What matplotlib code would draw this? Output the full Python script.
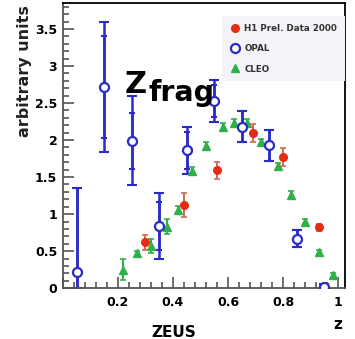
import numpy as np
import matplotlib
matplotlib.use('Agg')
from matplotlib import pyplot as plt
from matplotlib.ticker import MultipleLocator, FuncFormatter

# Z_frag distributions: H1 preliminary vs OPAL vs CLEO
h1_z = [0.30, 0.44, 0.56, 0.69, 0.80, 0.93]
h1_y = [0.62, 1.12, 1.59, 2.09, 1.77, 0.82]
h1_err = [0.10, 0.16, 0.12, 0.12, 0.12, 0.05]

opal_z = [0.05, 0.15, 0.25, 0.35, 0.45, 0.55, 0.65, 0.75, 0.85, 0.95]
opal_y = [0.22, 2.72, 1.99, 0.84, 1.86, 2.53, 2.18, 1.93, 0.67, 0.02]
opal_tot = [1.13, 0.88, 0.60, 0.44, 0.32, 0.28, 0.21, 0.21, 0.11, 0.03]
opal_stat = [1.13, 0.69, 0.38, 0.33, 0.25, 0.22, 0.21, 0.21, 0.11, 0.03]

cleo_z = [0.22, 0.27, 0.32, 0.38, 0.42, 0.47, 0.52, 0.58,
          0.62, 0.67, 0.72, 0.78, 0.83, 0.88, 0.93, 0.98]
cleo_y = [0.25, 0.47, 0.57, 0.83, 1.06, 1.58, 1.92, 2.18,
          2.23, 2.23, 1.97, 1.65, 1.26, 0.90, 0.49, 0.18]
cleo_err = [0.14, 0.03, 0.09, 0.10, 0.05, 0.05, 0.05, 0.05,
            0.05, 0.05, 0.05, 0.04, 0.05, 0.03, 0.03, 0.03]

red = '#e52b12'
blue = '#2b2bc8'
green = '#2fb04a'

fig = plt.figure(figsize=(3.55, 3.39), dpi=100)
ax = fig.add_axes([0.177, 0.150, 0.795, 0.841])

# OPAL: total error with caps, stat error with small ticks
y = np.array(opal_y)
tot = np.array(opal_tot)
stat = np.array(opal_stat)
ax.errorbar(opal_z, opal_y, yerr=[np.minimum(tot, y), tot], fmt='none',
            ecolor=blue, elinewidth=1.8, capsize=3.5, capthick=1.5, zorder=2)
ax.errorbar(opal_z, opal_y, yerr=[np.minimum(stat, y), stat], fmt='none',
            ecolor=blue, elinewidth=1.8, capsize=2.5, capthick=1.5, zorder=2)
ax.plot(opal_z, opal_y, 'o', ms=6.5, mfc='white', mec=blue, mew=1.6,
        zorder=4, label='OPAL')

ax.errorbar(cleo_z, cleo_y, yerr=cleo_err, fmt='none', ecolor=green,
            elinewidth=1.5, capsize=2.5, capthick=1.2, zorder=3)
ax.plot(cleo_z, cleo_y, '^', ms=5.5, color=green, zorder=3, label='CLEO')

ax.errorbar(h1_z, h1_y, yerr=h1_err, fmt='none', ecolor='#d06a50',
            elinewidth=1.4, capsize=2.5, capthick=1.2, zorder=5)
ax.plot(h1_z, h1_y, 'o', ms=5.5, color=red, zorder=5,
        label='H1 Prel. Data 2000')

ax.set_xlim(0, 1.025)
ax.set_ylim(0, 3.85)

ax.xaxis.set_major_locator(MultipleLocator(0.2))
ax.xaxis.set_minor_locator(MultipleLocator(0.04))
ax.xaxis.set_major_formatter(FuncFormatter(lambda v, p: '' if v < 0.01 else f'{v:.1g}'))
ax.yaxis.set_major_locator(MultipleLocator(0.5))
ax.yaxis.set_minor_locator(MultipleLocator(0.1))
ax.yaxis.set_major_formatter('{x:.2g}')
ax.tick_params(which='both', direction='in', width=1.2, color='#555555')
ax.tick_params(which='major', length=8, labelsize=9)
ax.tick_params(which='minor', length=4)
ax.tick_params(axis='x', pad=6)
ax.tick_params(axis='y', pad=4)
for lab in ax.get_xticklabels() + ax.get_yticklabels():
    lab.set_fontweight('bold')
for s in ax.spines.values():
    s.set_linewidth(1.3)
ax.spines['left'].set_color('#555555')
ax.spines['bottom'].set_color('#555555')

fig.text(0.07, 0.985, 'arbitrary units', rotation=90, ha='center', va='top',
         fontsize=11.5, fontweight='bold', color='#222222')
fig.text(0.952, 0.042, 'z', ha='center', va='center',
         fontsize=11, fontweight='bold')
fig.text(0.49, 0.040, 'ZEUS', ha='center', va='top',
         fontsize=11, fontweight='bold')

# Z_frag label: big Z plus wide subscript
ax.text(0.22, 0.685, 'Z', transform=ax.transAxes, ha='left',
        va='baseline', fontsize=22, fontweight='bold', zorder=10)
ax.text(0.305, 0.655, 'frag', transform=ax.transAxes, ha='left',
        va='baseline', fontsize=20.5, fontweight='bold', zorder=10)

handles, labels = ax.get_legend_handles_labels()
order = [labels.index('H1 Prel. Data 2000'), labels.index('OPAL'),
         labels.index('CLEO')]
leg = ax.legend([handles[i] for i in order], [labels[i] for i in order],
                loc='upper right', bbox_to_anchor=(1.0, 0.955), fontsize=6.3,
                frameon=True, fancybox=False, framealpha=1,
                handlelength=1.0, handletextpad=0.6, labelspacing=1.3,
                borderpad=0.9, borderaxespad=0.0)
leg.get_frame().set_facecolor('#f4f4f8')
leg.get_frame().set_edgecolor('none')
for t in leg.get_texts():
    t.set_fontweight('bold')
    t.set_color('#333333')

plt.savefig('out.png', dpi=100)
